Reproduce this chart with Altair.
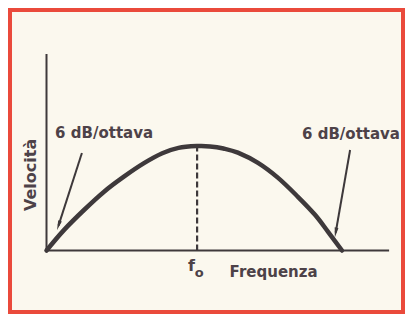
import altair as alt
import pandas as pd

# Curve (response), arbitrary units (origin at axes corner)
curve_x = [0, 5.8, 12.5, 19.2, 25.8, 32.5, 38.6, 44.0, 50.2, 54.5, 59.0, 63.8, 70.5, 77.2, 83.8, 89.5, 93.8, 98.5]
curve_y = [0, 6.8, 13.5, 19.6, 24.6, 29.1, 32.4, 34.2, 34.8, 34.7, 34.0, 32.6, 29.2, 24.2, 17.9, 11.9, 6.3, 0]

# Axes lines
axis_x = [0, 0]
axis_y = [0, 0]
axis_x2 = [0, 114.2]
axis_y2 = [65.5, 0]

# f0 marker (dashed)
f0_x = 50.2
f0_top = 34.8

# Arrows (start -> head)
arrow_x = [11.8, 101.2]
arrow_y = [32.5, 33.5]
arrow_x2 = [4.0, 96.4]
arrow_y2 = [8.3, 6.0]
arrow_angle = [198, 190]

# Annotation texts
ann_text = ["6 dB/ottava", "6 dB/ottava"]
ann_x = [19.2, 101.5]
ann_y = [37.5, 37.2]

# Axis labels
lab_text = ["Frequenza"]
lab_x = [75.7]
lab_y = [-7.2]

ylab_text = ["Velocità"]
ylab_x = [-5.2]
ylab_y = [25.2]

f_text = ["f"]
f_x = [48.3]
f_y = [-5.0]
o_text = ["o"]
o_x = [50.9]
o_y = [-7.6]

INK = "#3e393b"
TXT = "#4d4248"
FONT = "DejaVu Sans"

xs = alt.Scale(domain=[-12.167, 118.833], nice=False, zero=False)
ys = alt.Scale(domain=[-20.5, 80.167], nice=False, zero=False)

def X(f="x"):
    return alt.X(f"{f}:Q", scale=xs, axis=None)

def Y(f="y"):
    return alt.Y(f"{f}:Q", scale=ys, axis=None)

axes_df = pd.DataFrame({"x": axis_x, "y": axis_y, "x2": axis_x2, "y2": axis_y2})
axes = alt.Chart(axes_df).mark_rule(color=INK, strokeWidth=2).encode(
    x=X(), y=Y(), x2="x2:Q", y2="y2:Q")

f0_df = pd.DataFrame({"x": [f0_x], "y": [0], "y2": [f0_top]})
f0_line = alt.Chart(f0_df).mark_rule(color=INK, strokeWidth=2.2, strokeDash=[6, 3]).encode(
    x=X(), y=Y(), y2="y2:Q")

curve_df = pd.DataFrame({"x": curve_x, "y": curve_y})
curve = alt.Chart(curve_df).mark_line(color=INK, strokeWidth=4.5, interpolate="cardinal",
                                      strokeCap="round").encode(x=X(), y=Y())

arr_df = pd.DataFrame({"x": arrow_x, "y": arrow_y, "x2": arrow_x2, "y2": arrow_y2, "angle": arrow_angle})
arrows = alt.Chart(arr_df).mark_rule(color=INK, strokeWidth=2).encode(
    x=X(), y=Y(), x2="x2:Q", y2="y2:Q")
heads = alt.Chart(arr_df).mark_point(
    shape="M0,-1L0.38,1L-0.38,1Z", filled=True, color=INK, opacity=1, size=100, strokeWidth=0
).encode(x=X("x2"), y=Y("y2"), angle=alt.Angle("angle:Q", scale=None))

ann_df = pd.DataFrame({"x": ann_x, "y": ann_y, "t": ann_text})
ann = alt.Chart(ann_df).mark_text(font=FONT, fontWeight="bold", fontSize=15, color=TXT,
                                  align="center", baseline="alphabetic").encode(
    x=X(), y=Y(), text="t:N")

lab_df = pd.DataFrame({"x": lab_x, "y": lab_y, "t": lab_text})
lab = alt.Chart(lab_df).mark_text(font=FONT, fontWeight="bold", fontSize=15, color=TXT,
                                  align="center", baseline="middle").encode(
    x=X(), y=Y(), text="t:N")

ylab_df = pd.DataFrame({"x": ylab_x, "y": ylab_y, "t": ylab_text})
ylab = alt.Chart(ylab_df).mark_text(font=FONT, fontWeight="bold", fontSize=16, color=TXT,
                                    align="center", baseline="middle", angle=270).encode(
    x=X(), y=Y(), text="t:N")

f_df = pd.DataFrame({"x": f_x, "y": f_y, "t": f_text})
ftxt = alt.Chart(f_df).mark_text(font=FONT, fontWeight="bold", fontSize=16, color=TXT,
                                 align="center", baseline="middle").encode(
    x=X(), y=Y(), text="t:N")
o_df = pd.DataFrame({"x": o_x, "y": o_y, "t": o_text})
otxt = alt.Chart(o_df).mark_text(font=FONT, fontWeight="bold", fontSize=13, color=TXT,
                                 align="center", baseline="middle").encode(
    x=X(), y=Y(), text="t:N")

chart = alt.layer(axes, f0_line, curve, arrows, heads, ann, lab, ylab, ftxt, otxt).properties(
    width=393, height=302,
    padding={"left": 2, "top": 2, "right": 2, "bottom": 2},
    autosize=alt.AutoSizeParams(type="none"),
    background="white",
).configure_view(fill="#fbf8ee", stroke="#ea4a3b", strokeWidth=4)

chart.save("out.html", embed_options={"renderer": "svg", "actions": False})
